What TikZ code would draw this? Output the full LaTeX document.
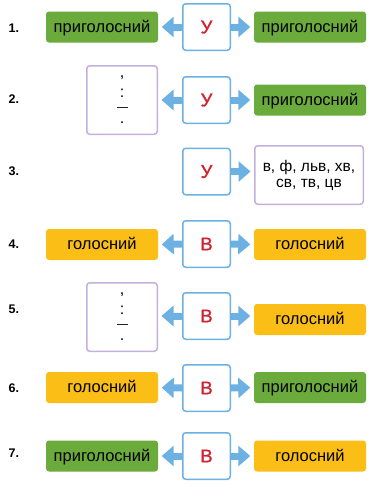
\documentclass[tikz,border=0pt]{standalone}
\usepackage{fontspec}
\setmainfont{Liberation Sans}
\newfontfamily\medfont[FakeBold=1.2]{Liberation Sans}
\usetikzlibrary{arrows.meta,backgrounds}
\definecolor{grn}{HTML}{6AAB3C}
\definecolor{ylw}{HTML}{FBBE16}
\definecolor{blu}{HTML}{6DB1E2}
\definecolor{prp}{HTML}{C4B0DC}
\definecolor{rd}{HTML}{D0232F}
\begin{document}
\begin{tikzpicture}[x=1pt,y=-1pt,
  side/.style={rounded corners=3pt, minimum width=112pt, minimum height=31pt, inner sep=0pt,
    text height=10pt, text depth=0pt, font=\fontsize{16.5}{18}\selectfont},
  gbox/.style={side, fill=grn},
  ybox/.style={side, fill=ylw},
  mid/.style={draw=blu, line width=1.5pt, fill=white, rounded corners=3pt,
    minimum width=47.5pt, minimum height=46.5pt, inner sep=0pt, text=rd,
    font=\medfont\fontsize{18.5}{20}\selectfont},
  pbox/.style={draw=prp, line width=1.5pt, fill=white, rounded corners=3pt, inner sep=0pt},
  punct/.style={inner sep=0pt, font=\fontsize{16}{16}\selectfont},
  dashmark/.style={inner sep=0pt, minimum width=11pt, minimum height=1.6pt, fill=black!85},
  num/.style={anchor=west, inner sep=0pt, font=\bfseries\fontsize{12.5}{14}\selectfont},
  arr/.style={draw=blu, line width=7pt, -{Triangle[width=20pt,length=12pt]}, shorten >=3.5pt}
]
\useasboundingbox (0,0) rectangle (370,485);

% numbers
\node[num] (n1) at (8.5,28.5) {1.};
\node[num] (n2) at (8.5,98.7) {2.};
\node[num] (n3) at (8.5,171) {3.};
\node[num] (n4) at (8.5,244) {4.};
\node[num] (n5) at (8.5,309.5) {5.};
\node[num] (n6) at (8.5,388.5) {6.};
\node[num] (n7) at (8.5,453.5) {7.};

% row 1
\node[gbox] (l1) at (102,27) {приголосний};
\node[mid] (c1) at (206.5,27) {У};
\node[gbox] (r1) at (310,27) {приголосний};

% row 2
\node[pbox, minimum width=70.5pt, minimum height=68.5pt] (l2) at (122,100) {};
\node[punct] (p2a) at (122,77.5) {,};
\node[punct] (p2b) at (122,93.5) {:};
\node[dashmark] (p2c) at (122,107.5) {};
\node[punct] (p2d) at (122,122.5) {.};
\node[mid] (c2) at (206.5,100) {У};
\node[gbox] (r2) at (310,100) {приголосний};

% row 3
\node[mid] (c3) at (206.5,171.5) {У};
\node[pbox, minimum width=108.5pt, minimum height=58.5pt, align=center,
  font=\fontsize{15.5}{16}\selectfont] (r3) at (309,175) {в, ф, льв, хв,\\св, тв, цв};

% row 4
\node[ybox] (l4) at (102,244.5) {голосний};
\node[mid] (c4) at (206.5,244) {В};
\node[ybox] (r4) at (310,244.5) {голосний};

% row 5
\node[pbox, minimum width=70.5pt, minimum height=68.5pt] (l5) at (122,317) {};
\node[punct] (p5a) at (122,294.5) {,};
\node[punct] (p5b) at (122,310.5) {:};
\node[dashmark] (p5c) at (122,324.5) {};
\node[punct] (p5d) at (122,339.5) {.};
\node[mid] (c5) at (206.5,316) {В};
\node[ybox] (r5) at (310,319.5) {голосний};

% row 6
\node[ybox] (l6) at (102,387.5) {голосний};
\node[mid] (c6) at (206.5,388) {В};
\node[gbox] (r6) at (310,387.5) {приголосний};

% row 7
\node[gbox] (l7) at (102,456) {приголосний};
\node[mid] (c7) at (206.5,456) {В};
\node[ybox] (r7) at (310,456) {голосний};

\begin{scope}[on background layer]
  \draw[arr] (c1.west) -- (l1.east);
  \draw[arr] (c1.east) -- (r1.west);
  \draw[arr] (c2.west) -- (l2.east);
  \draw[arr] (c2.east) -- (r2.west);
  \draw[arr] (c3.east) -- (r3.west |- c3.east);
  \draw[arr] (c4.west) -- (l4.east);
  \draw[arr] (c4.east) -- (r4.west);
  \draw[arr] (c5.west) -- (l5.east |- c5.west);
  \draw[arr] (c5.east) -- (r5.west |- c5.east);
  \draw[arr] (c6.west) -- (l6.east);
  \draw[arr] (c6.east) -- (r6.west);
  \draw[arr] (c7.west) -- (l7.east);
  \draw[arr] (c7.east) -- (r7.west);
\end{scope}
\end{tikzpicture}
\end{document}
